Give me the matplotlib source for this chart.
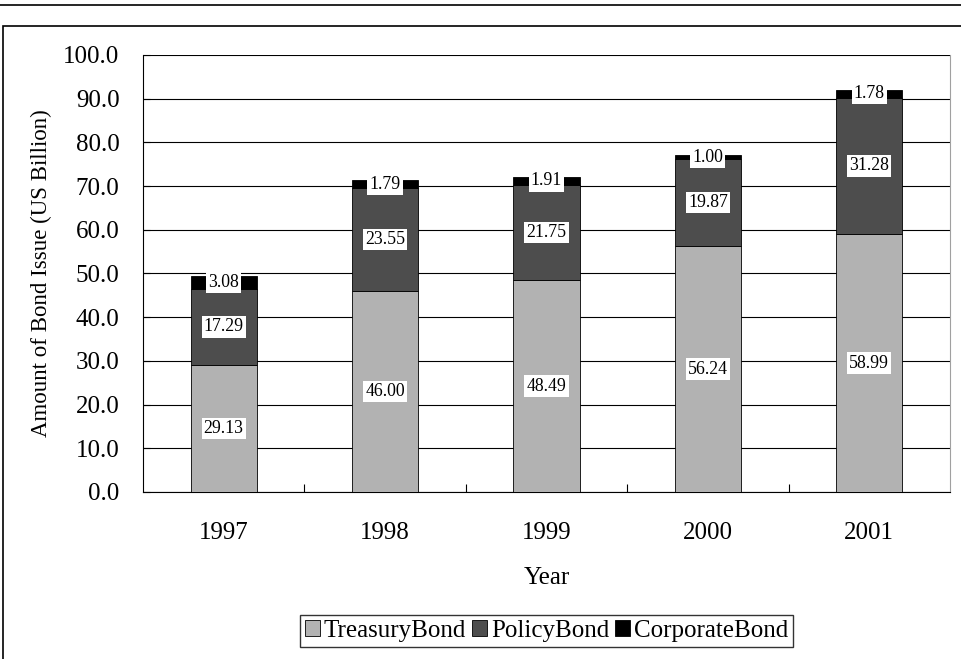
import matplotlib
matplotlib.use("Agg")
import matplotlib.pyplot as plt
from matplotlib.patches import Rectangle
from matplotlib.lines import Line2D
import numpy as np

years = ["1997", "1998", "1999", "2000", "2001"]
treasury = [29.13, 46.00, 48.49, 56.24, 58.99]
policy = [17.29, 23.55, 21.75, 19.87, 31.28]
corporate = [3.08, 1.79, 1.91, 1.00, 1.78]
series_names = ["TreasuryBond", "PolicyBond", "CorporateBond"]
colors = ["#b2b2b2", "#4d4d4d", "#000000"]
yticks = np.arange(0, 101, 10)

plt.rcParams["font.family"] = ["Liberation Serif", "DejaVu Serif"]

fig = plt.figure(figsize=(9.62, 6.59), dpi=100)
W, H = 962, 659

# top rule and outer frame
fig.add_artist(Line2D([0, 1], [1 - 5 / H, 1 - 5 / H], color="black", lw=1.2, transform=fig.transFigure))
fig.add_artist(Rectangle((3 / W, -0.01), 1.2, 1 - 26 / H + 0.01, transform=fig.transFigure,
                         fill=False, edgecolor="black", lw=1.2))

ax = fig.add_axes([143 / W, (H - 492) / H, (950 - 143) / W, (492 - 55) / H])
x = np.arange(len(years))
width = 0.41
bottom = np.zeros(len(years))
data = [treasury, policy, corporate]
for vals, c, name in zip(data, colors, series_names):
    vals = np.array(vals)
    ax.bar(x, vals, width, bottom=bottom, color=c, edgecolor="black", linewidth=0.6,
           label=name, zorder=3)
    for xi, b, v in zip(x, bottom, vals):
        ax.text(xi, b + v / 2, f"{v:.2f}", ha="center", va="center", fontsize=12.8, zorder=5,
                bbox=dict(boxstyle="square,pad=0.12", facecolor="white", edgecolor="none"))
    bottom = bottom + vals

ax.set_xlim(-0.5, len(years) - 0.5)
ax.set_ylim(0, 100)
ax.set_yticks(yticks)
ax.set_yticklabels([f"{v:.1f}" for v in yticks], fontsize=18)
ax.set_xticks(x)
ax.set_xticklabels(years, fontsize=18)
ax.set_xticks(np.arange(0.5, len(years) - 0.5, 1), minor=True)
ax.tick_params(axis="x", which="major", length=0, pad=21.5)
ax.tick_params(axis="x", which="minor", direction="in", length=6, width=0.8)
ax.tick_params(axis="y", direction="in", length=5, width=0.8, pad=17)
ax.yaxis.grid(True, color="black", lw=0.8, zorder=0)
ax.set_axisbelow(True)
ax.spines["top"].set_visible(False)
ax.spines["right"].set_color("#a0a0a0")
ax.spines["left"].set_linewidth(0.8)
ax.spines["bottom"].set_linewidth(0.8)

ax.set_xlabel("Year", fontsize=18, labelpad=16.5)
ax.set_ylabel("Amount of Bond Issue (US Billion)", fontsize=16.5, labelpad=8)

leg = fig.legend(loc="center", bbox_to_anchor=(546.5 / W, (H - 631) / H), ncol=3, fontsize=18,
                 frameon=True, fancybox=False, edgecolor="black", handlelength=0.6,
                 handleheight=0.6, handletextpad=0.15, columnspacing=0.25, borderpad=0.2,
                 borderaxespad=0)
leg.get_frame().set_linewidth(1.0)

fig.savefig("out.png", dpi=100)
